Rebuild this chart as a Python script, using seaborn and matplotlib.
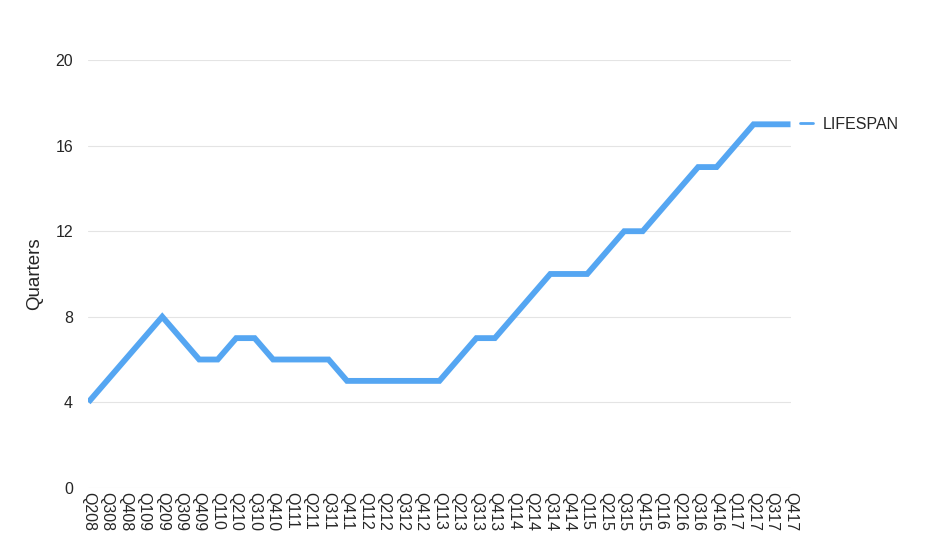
import matplotlib
matplotlib.use("Agg")
import matplotlib.pyplot as plt
import seaborn as sns
import pandas as pd
from matplotlib.lines import Line2D

quarters = ["Q208", "Q308", "Q408", "Q109", "Q209", "Q309", "Q409", "Q110",
            "Q210", "Q310", "Q410", "Q111", "Q211", "Q311", "Q411", "Q112",
            "Q212", "Q312", "Q412", "Q113", "Q213", "Q313", "Q413", "Q114",
            "Q214", "Q314", "Q414", "Q115", "Q215", "Q315", "Q415", "Q116",
            "Q216", "Q316", "Q416", "Q117", "Q217", "Q317", "Q417"]
lifespan = [4, 5, 6, 7, 8, 7, 6, 6,
            7, 7, 6, 6, 6, 6, 5, 5,
            5, 5, 5, 5, 6, 7, 7, 8,
            9, 10, 10, 10, 11, 12, 12, 13,
            14, 15, 15, 16, 17, 17, 17]
yticks = [0, 4, 8, 12, 16, 20]

df = pd.DataFrame({"pos": range(len(quarters)), "quarter": quarters, "LIFESPAN": lifespan})

sns.set_style("white")
plt.rcParams['font.family'] = ['Liberation Sans', 'DejaVu Sans']

color = "#55a6f2"
fig = plt.figure(figsize=(9.3, 5.42), dpi=100)
ax = fig.add_axes([0.095, 0.1, 0.755, 0.789])

sns.lineplot(data=df, x="pos", y="LIFESPAN", ax=ax, color=color, lw=4.2,
             solid_joinstyle="miter", solid_capstyle="butt", legend=False)

ax.set_xlim(0, len(quarters) - 1)
ax.set_ylim(0, 20)
ax.set_yticks(yticks)
ax.set_xticks(range(len(quarters)))
ax.set_xticklabels(quarters, rotation=-90, fontsize=11.5)
ax.tick_params(axis="y", labelsize=11.5, length=0, pad=11)
ax.tick_params(axis="x", length=0, pad=3)
ax.yaxis.grid(True, color="#e4e4e4", lw=0.8)
ax.set_axisbelow(True)
for s in ax.spines.values():
    s.set_visible(False)
ax.set_xlabel("")
ax.set_ylabel("Quarters", fontsize=13.5, labelpad=9)

handle = Line2D([], [], color=color, lw=2)
ax.legend([handle], ["LIFESPAN"], loc="center left", bbox_to_anchor=(1.0, 0.85),
          frameon=False, handlelength=0.8, handletextpad=0.6, borderaxespad=0.2,
          fontsize=11.5)

plt.savefig("out.png", dpi=100)
